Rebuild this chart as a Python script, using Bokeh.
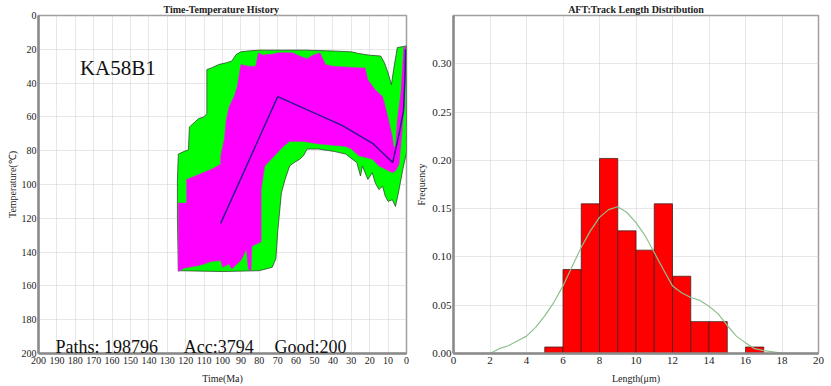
from bokeh.plotting import figure
from bokeh.layouts import row
from bokeh.models import Range1d, FixedTicker, Label, PrintfTickFormatter
from bokeh.embed import file_html
from bokeh.resources import INLINE

FONT = "Liberation Serif"

# ---------------- Time-temperature history data ----------------
green_t = [124, 124.5, 124.5, 124, 121, 118.5, 118, 117.5, 113, 110, 108.5, 108.5, 106, 102, 98, 95,
           92.5, 90, 86, 80, 70, 55, 40, 30, 26, 20, 14, 12, 10, 8.2, 7, 5, 0,
           0, 2, 4.4, 6, 7.7, 10, 11.5, 13, 15, 17, 18.6, 21, 22.5, 24, 25, 27, 29.5, 33, 39, 48,
           54, 56, 58, 61, 63.5, 66, 68, 70, 71, 73, 80, 100]
green_T = [151, 120, 97, 82, 80.5, 79.5, 66, 65.5, 61, 60, 58, 32, 31, 29, 28, 27,
           23, 21.5, 21, 20.5, 20.5, 20.5, 21, 21.5, 22.5, 23.5, 24, 28, 34, 41, 32, 19, 18,
           81, 91, 105, 113, 109, 110, 107, 101, 103, 99, 93, 97, 93, 89, 95, 87, 85, 82, 80.5, 79,
           79, 83, 85, 87, 89, 97, 105, 128, 144, 149, 151, 151.5]

magenta_t = [124, 124, 119.5, 119.5, 106, 101, 101, 99, 98, 96.4, 93.7, 92, 90, 86, 82, 80.5,
             78, 76, 73, 70, 62, 58, 54, 51, 47, 44, 40, 24, 22.5, 21, 17, 13, 11.5, 9.8, 7.7, 7,
             6, 5, 3, 1.5, 0.3, 0.3, 1, 2.5, 4, 6, 7.7, 11.5, 15, 18.6, 26, 30, 33, 48, 56,
             63.5, 67, 70, 73.5, 77, 79, 79, 84, 84.5, 86, 87, 90, 95, 96.5, 100, 101, 106,
             110, 113, 118, 121]
magenta_T = [151.5, 111, 111, 97, 91, 88, 83, 73, 62, 54, 48, 42, 29, 30, 30, 22,
             23.5, 23, 23, 22, 22, 24, 25.6, 23.5, 22, 29, 30, 31, 31, 38, 44, 48, 54, 61.5, 71.5, 77.5,
             78, 62, 45, 19, 18.5, 30, 50, 70, 88, 92, 93, 91, 89, 85, 83, 79, 77.5, 76, 74.5,
             74.5, 77.5, 81, 85, 89, 103, 134, 136.5, 151, 150, 138.5, 145, 150, 147, 149, 145, 145.5,
             147, 148, 149, 149.5]

best_t = [101, 70, 35, 18, 7.5, 4, 1.6, 0.8, 0.5]
best_T = [123, 48, 65, 76, 87, 70, 56, 35, 20]

time_ticks = list(range(0, 201, 10))
temp_ticks = list(range(0, 201, 20))

sample_name = "KA58B1"
paths_text = "Paths: 198796"
acc_text = "Acc:3794"
good_text = "Good:200"

# ---------------- Track length distribution data ----------------
bin_left = [5, 6, 7, 8, 9, 10, 11, 12, 13, 14, 15, 16]
bin_right = [6, 7, 8, 9, 10, 11, 12, 13, 14, 15, 16, 17]
freq = [0.0067, 0.087, 0.155, 0.202, 0.127, 0.107, 0.155, 0.080, 0.033, 0.033, 0.0, 0.0067]

kde_x = [0, 1, 2, 2.5, 3, 3.5, 4, 4.5, 5, 5.5, 6, 6.5, 7, 7.5, 8, 8.5, 9, 9.5, 10, 10.5, 11,
         11.5, 12, 12.5, 13, 13.5, 14, 14.5, 15, 15.5, 16, 16.5, 17, 18, 19, 20]
kde_y = [0, 0, 0, 0.005, 0.008, 0.013, 0.018, 0.027, 0.039, 0.053, 0.07, 0.09, 0.11, 0.127, 0.141,
         0.149, 0.152, 0.146, 0.1355, 0.122, 0.1045, 0.087, 0.07, 0.063, 0.058, 0.055, 0.049, 0.041,
         0.029, 0.018, 0.011, 0.005, 0.003, 0.0005, 0, 0]

len_ticks = list(range(0, 21, 2))
freq_ticks = [0.0, 0.05, 0.10, 0.15, 0.20, 0.25, 0.30]


def style(p):
    p.title.text_font = FONT
    p.title.text_font_size = "10px"
    p.title.text_font_style = "bold"
    p.title.text_color = "#222222"
    p.title.align = "center"
    p.title.standoff = 2
    p.title.offset = 0
    p.outline_line_color = "#a0a0a0"
    p.outline_line_width = 1.5
    for ax in (p.xaxis, p.yaxis):
        ax.axis_line_color = "#8a8a8a"
        ax.axis_line_width = 2.5
        ax.major_tick_out = 0
        ax.major_tick_in = 0
        ax.minor_tick_out = 0
        ax.minor_tick_in = 0
        ax.major_label_text_font = FONT
        ax.major_label_text_font_size = "10px"
        ax.major_label_text_color = "#222222"
        ax.major_label_standoff = 3
        ax.axis_label_text_font = FONT
        ax.axis_label_text_font_size = "10px"
        ax.axis_label_text_font_style = "normal"
        ax.axis_label_text_color = "#222222"
        ax.axis_label_standoff = 6
    p.grid.grid_line_color = "#cfcfcf"
    p.grid.grid_line_dash = "1 1"
    p.background_fill_color = "white"
    p.border_fill_color = "white"


# ---------------- left figure ----------------
p1 = figure(width=410, height=386, output_backend="svg", toolbar_location=None,
            title="Time-Temperature  History",
            x_range=Range1d(200, 0), y_range=Range1d(200, 0),
            min_border_left=38, min_border_right=4, min_border_top=5, min_border_bottom=30)
style(p1)
p1.xaxis.ticker = FixedTicker(ticks=time_ticks)
p1.yaxis.ticker = FixedTicker(ticks=temp_ticks)
p1.xaxis.axis_label = "Time(Ma)"
p1.yaxis.axis_label = "Temperature(℃)"
p1.yaxis.axis_label_standoff = 1
p1.yaxis.major_label_standoff = 2

p1.patch(green_t, green_T, fill_color="#00ff00", line_color="#2e4a2e", line_width=0.8)
p1.patch(magenta_t, magenta_T, fill_color="#ff00ff", line_color="#cc33cc", line_width=0.5)
p1.line(best_t, best_T, line_color="#2a1a8c", line_width=1.5)

p1.add_layout(Label(x=177.5, y=31, text=sample_name, text_font=FONT, text_font_size="21px",
                    text_baseline="middle", text_color="#111111"))
for tx, txt in ((190.7, paths_text), (121, acc_text), (71.8, good_text)):
    p1.add_layout(Label(x=tx, y=196, text=txt, text_font=FONT, text_font_size="18px",
                        text_baseline="alphabetic", text_color="#111111"))

# ---------------- right figure ----------------
p2 = figure(width=421, height=386, output_backend="svg", toolbar_location=None,
            title="AFT:Track Length Distribution",
            x_range=Range1d(0, 20), y_range=Range1d(0, 0.35),
            min_border_left=43, min_border_right=13, min_border_top=5, min_border_bottom=30)
style(p2)
p2.xaxis.ticker = FixedTicker(ticks=len_ticks)
p2.yaxis.ticker = FixedTicker(ticks=freq_ticks)
p2.yaxis.formatter = PrintfTickFormatter(format="%.2f")
p2.yaxis.major_label_text_font_size = "11px"
p2.xaxis.major_label_text_font_size = "11px"
p2.xaxis.axis_label = "Length(μm)"
p2.yaxis.axis_label = "Frequency"
p2.yaxis.axis_label_standoff = 2
p2.yaxis.major_label_standoff = 2
p2.ygrid.ticker = FixedTicker(ticks=freq_ticks + [0.35])

nz = [i for i, f in enumerate(freq) if f > 0]
p2.quad(left=[bin_left[i] for i in nz], right=[bin_right[i] for i in nz],
        top=[freq[i] for i in nz], bottom=0,
        fill_color="#ff0000", line_color="#4a2020", line_width=0.8)
p2.line(kde_x, kde_y, line_color="#8fbf8f", line_width=1.2)

layout = row(p1, p2)
open("out.html", "w").write(file_html(layout, INLINE))
